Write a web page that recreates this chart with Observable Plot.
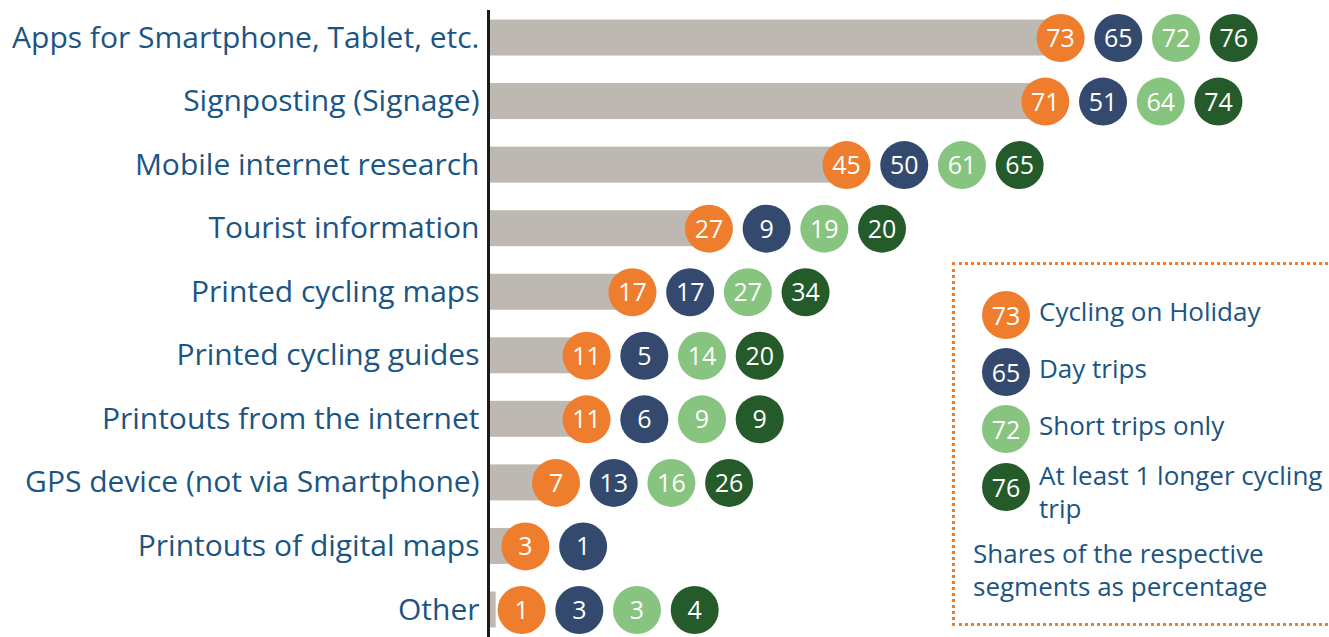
<!DOCTYPE html>
<html>
<head>
<meta charset="utf-8">
<script src="https://cdn.jsdelivr.net/npm/d3@7"></script>
<script src="https://cdn.jsdelivr.net/npm/@observablehq/plot@0.6"></script>
<style>
  html, body { margin: 0; padding: 0; background: #fff; }
  #wrap { position: relative; width: 1329px; height: 637px; overflow: hidden; font-family: "Open Sans", sans-serif; }
  #legend { position: absolute; left: 952px; top: 262px; width: 400px; height: 358px; border: 3px dotted #ee7d2e; box-sizing: content-box; color: #1b5583; }
  .lg-dot { position: absolute; width: 48px; height: 48px; border-radius: 50%; color: #fff; font-size: 25px; line-height: 48px; text-align: center; }
  .lg-text { position: absolute; left: 84px; font-size: 26px; line-height: 33px; white-space: nowrap; }
  .lg-note { position: absolute; left: 18px; top: 272px; font-size: 26px; line-height: 33px; white-space: nowrap; }
</style>
</head>
<body>
<div id="wrap"></div>
<script>
// ---- data ----
const categories = [
  "Apps for Smartphone, Tablet, etc.",
  "Signposting (Signage)",
  "Mobile internet research",
  "Tourist information",
  "Printed cycling maps",
  "Printed cycling guides",
  "Printouts from the internet",
  "GPS device (not via Smartphone)",
  "Printouts of digital maps",
  "Other"
];
const holiday    = [73, 71, 45, 27, 17, 11, 11, 7, 3, 1];
const dayTrips   = [65, 51, 50, 9, 17, 5, 6, 13, 1, 3];
const shortTrips = [72, 64, 61, 19, 27, 14, 9, 16, null, 3];
const longerTrip = [76, 74, 65, 20, 34, 20, 9, 26, null, 4];
const segments = ["Cycling on Holiday", "Day trips", "Short trips only", "At least 1 longer cycling trip"];
const segColors = ["#ee7d2e", "#34496e", "#87c47f", "#255a2b"];
const noteLines = ["Shares of the respective", "segments as percentage"];

// ---- build tables ----
const series = [holiday, dayTrips, shortTrips, longerTrip];
const rows = categories.map((c, i) => ({category: c, bar: holiday[i]}));
const dots = [];
categories.forEach((c, i) => {
  series.forEach((s, j) => {
    if (s[i] != null) dots.push({category: c, seg: j, value: s[i], anchor: holiday[i]});
  });
});

const step = 57.7;
const dotMarks = [];
segments.forEach((name, j) => {
  const sub = dots.filter(d => d.seg === j);
  // circles sit just after the end of the bar (kept clear of the axis line)
  const xAcc = d => Math.max(d.anchor, 2.5);
  dotMarks.push(Plot.dot(sub, {x: xAcc, y: "category", r: 24, fill: segColors[j], dx: 14 + j * step}));
  dotMarks.push(Plot.text(sub, {x: xAcc, y: "category", text: d => String(d.value), fill: "#fff", fontSize: 25, dx: 14 + j * step, dy: 1}));
});

const chart = Plot.plot({
  width: 1329,
  height: 637,
  marginLeft: 488,
  marginRight: 0,
  marginTop: 10,
  marginBottom: 0,
  style: {fontFamily: "'Open Sans', sans-serif", background: "#fff", overflow: "visible"},
  x: {domain: [0, 110], axis: null},
  y: {domain: categories, paddingInner: 0.434, paddingOuter: 0.15, round: false, axis: null},
  marks: [
    Plot.barX(rows, {x: "bar", y: "category", fill: "#bdb8b1"}),
    Plot.ruleX([0], {stroke: "#1a1a1a", strokeWidth: 3}),
    Plot.axisY({tickSize: 0, tickPadding: 9, fontSize: 30, fill: "#1b5583", label: null}),
    ...dotMarks
  ]
});
document.getElementById("wrap").appendChild(chart);

// ---- legend ----
const legend = document.createElement("div");
legend.id = "legend";
const tops = [26, 83, 140, 198];
segments.forEach((name, j) => {
  const dot = document.createElement("div");
  dot.className = "lg-dot";
  dot.style.background = segColors[j];
  dot.style.left = "27px";
  dot.style.top = tops[j] + "px";
  dot.textContent = series[j][0];
  legend.appendChild(dot);
  const t = document.createElement("div");
  t.className = "lg-text";
  if (j === 3) {
    t.style.top = (tops[j] - 4) + "px";
    t.innerHTML = "At least 1 longer cycling<br>trip";
  } else {
    t.style.top = (tops[j] + 4) + "px";
    t.textContent = name;
  }
  legend.appendChild(t);
});
const note = document.createElement("div");
note.className = "lg-note";
note.innerHTML = noteLines.join("<br>");
legend.appendChild(note);
document.getElementById("wrap").appendChild(legend);
</script>
</body>
</html>
